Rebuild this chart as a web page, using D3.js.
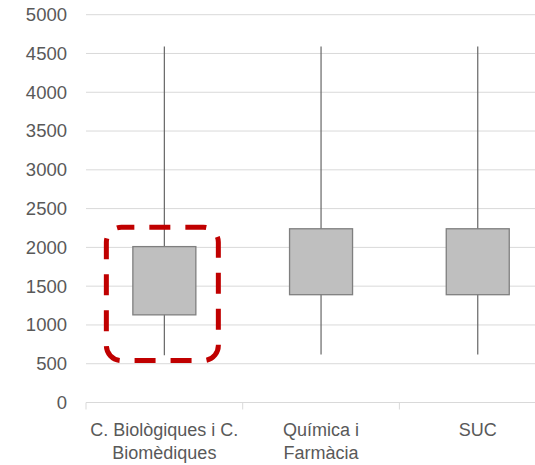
<!DOCTYPE html>
<html lang="ca">
<head>
<meta charset="UTF-8">
<title>Box plot</title>
<style>
  body { margin: 0; background: #fff; }
  text { font-family: "Liberation Sans", Arial, sans-serif; fill: #595959; }
</style>
</head>
<body>
<script src="https://d3js.org/d3.v7.min.js"></script>
<script>
var width = 535, height = 465;

// dades
var categories = ["C. Biològiques i C. Biomèdiques", "Química i Farmàcia", "SUC"];
var minVals = [610, 620, 620];
var q1Vals = [1130, 1390, 1390];
var q3Vals = [2010, 2240, 2240];
var maxVals = [4590, 4590, 4590];
var yTicks = [0, 500, 1000, 1500, 2000, 2500, 3000, 3500, 4000, 4500, 5000];
// zona destacada (categoria, valor inferior, valor superior)
var highlightCat = categories[0];
var highlightRange = [540, 2260];

var plotLeft = 86, plotTop = 14.7, plotBottom = 402.5;
var bandW = 156.7;

var x = d3.scaleBand()
  .domain(categories)
  .range([plotLeft, plotLeft + bandW * categories.length])
  .paddingInner(0).paddingOuter(0);
var y = d3.scaleLinear().domain([0, 5000]).range([plotBottom, plotTop]);

var svg = d3.select("body").append("svg")
  .attr("width", width).attr("height", height);

// graella
svg.append("g").selectAll("line")
  .data(yTicks.filter(function(d) { return d > 0; }))
  .enter().append("line")
  .attr("x1", plotLeft).attr("x2", width)
  .attr("y1", function(d) { return y(d); })
  .attr("y2", function(d) { return y(d); })
  .attr("stroke", "#d9d9d9").attr("stroke-width", 1);

// eix Y
var yAxis = svg.append("g")
  .attr("transform", "translate(" + plotLeft + ",0)")
  .call(d3.axisLeft(y).tickValues(yTicks).tickFormat(d3.format("d")).tickSize(0).tickPadding(19));
yAxis.select(".domain").remove();
yAxis.selectAll("text")
  .style("font-size", "18.5px")
  .attr("fill", "#595959");

// eix X
var xAxis = svg.append("g")
  .attr("transform", "translate(0," + plotBottom + ")");
xAxis.append("line")
  .attr("x1", plotLeft).attr("x2", width)
  .attr("stroke", "#d9d9d9").attr("stroke-width", 1);
xAxis.selectAll("line.tick")
  .data(categories)
  .enter().append("line")
  .attr("class", "tick")
  .attr("x1", function(d) { return x(d); })
  .attr("x2", function(d) { return x(d); })
  .attr("y1", 0).attr("y2", 7)
  .attr("stroke", "#d9d9d9");

var labels = xAxis.selectAll("text.cat")
  .data(categories)
  .enter().append("text")
  .attr("class", "cat")
  .attr("text-anchor", "middle")
  .style("font-size", "18px")
  .attr("x", function(d) { return x(d) + x.bandwidth() / 2; })
  .attr("y", 33.5);

labels.each(function(d) {
  var el = d3.select(this);
  var words = d.split(" ");
  var line = [];
  var ts = el.append("tspan").attr("x", el.attr("x")).attr("dy", 0);
  words.forEach(function(w) {
    line.push(w);
    ts.text(line.join(" "));
    if (ts.node().getComputedTextLength() > 153 && line.length > 1) {
      line.pop();
      ts.text(line.join(" "));
      line = [w];
      ts = el.append("tspan").attr("x", el.attr("x")).attr("dy", "23.3px").text(w);
    }
  });
});

// caixes
var boxW = 63;
var boxes = svg.append("g").selectAll("g")
  .data(categories)
  .enter().append("g");

boxes.append("line")
  .attr("x1", function(d) { return x(d) + x.bandwidth() / 2; })
  .attr("x2", function(d) { return x(d) + x.bandwidth() / 2; })
  .attr("y1", function(d, i) { return y(maxVals[i]); })
  .attr("y2", function(d, i) { return y(minVals[i]); })
  .attr("stroke", "#666").attr("stroke-width", 1.2);

boxes.append("rect")
  .attr("x", function(d) { return x(d) + x.bandwidth() / 2 - boxW / 2; })
  .attr("width", boxW)
  .attr("y", function(d, i) { return y(q3Vals[i]); })
  .attr("height", function(d, i) { return y(q1Vals[i]) - y(q3Vals[i]); })
  .attr("fill", "#bfbfbf")
  .attr("stroke", "#7f7f7f").attr("stroke-width", 1.3);

// marc vermell discontinu
var cx = x(highlightCat) + x.bandwidth() / 2;
svg.append("rect")
  .attr("x", cx - 58)
  .attr("width", 112)
  .attr("y", y(highlightRange[1]))
  .attr("height", y(highlightRange[0]) - y(highlightRange[1]))
  .attr("rx", 15).attr("ry", 15)
  .attr("fill", "none")
  .attr("stroke", "#c00000")
  .attr("stroke-width", 5)
  .attr("stroke-dasharray", "21,15")
  .attr("stroke-dashoffset", 8);
</script>
</body>
</html>
